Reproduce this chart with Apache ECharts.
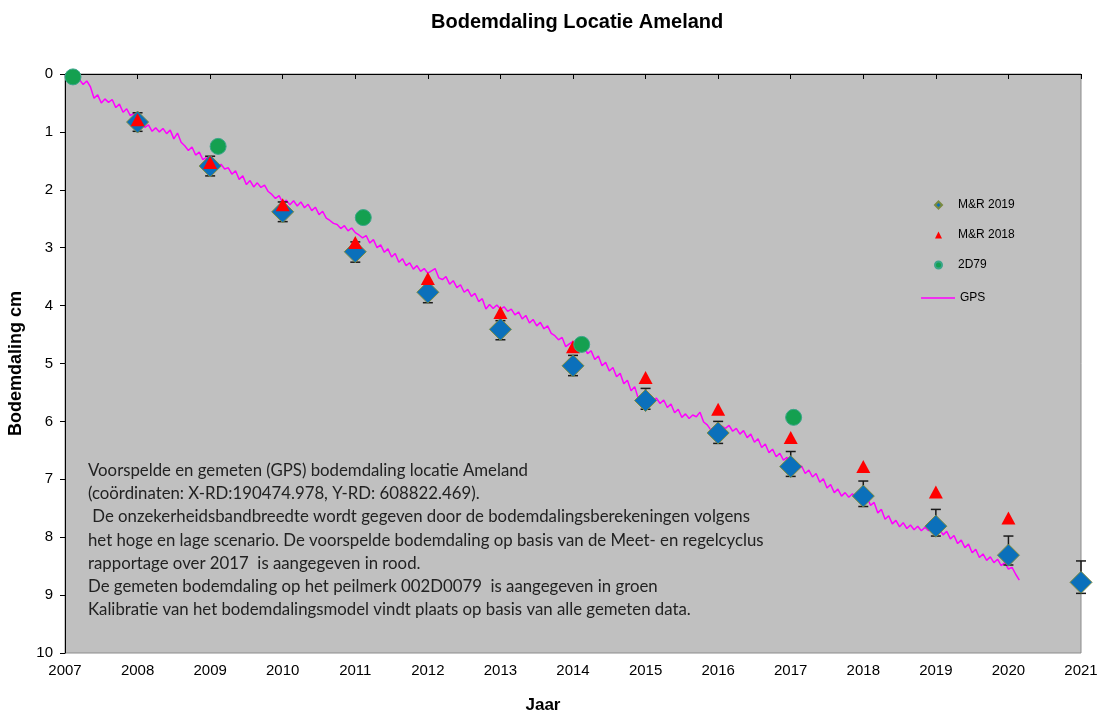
<!DOCTYPE html>
<html>
<head>
<meta charset="utf-8">
<title>Bodemdaling Locatie Ameland</title>
<script src="https://cdn.jsdelivr.net/npm/echarts@6/dist/echarts.min.js"></script>
<style>
  html, body { margin: 0; padding: 0; background: #ffffff; }
  #chart { width: 1099px; height: 715px; }
</style>
</head>
<body>
<div id="chart"></div>
<script>
// Predicted subsidence, M&R 2019 (cm) with uncertainty band (high / low scenario)
const mr2019Years = [2008, 2009, 2010, 2011, 2012, 2013, 2014, 2015, 2016, 2017, 2018, 2019, 2020, 2021];
const mr2019Values = [0.83, 1.59, 2.38, 3.07, 3.77, 4.41, 5.04, 5.64, 6.20, 6.78, 7.29, 7.81, 8.31, 8.78];
const mr2019Upper = [0.67, 1.42, 2.21, 2.90, 3.60, 4.26, 4.86, 5.43, 6.00, 6.52, 7.03, 7.52, 7.98, 8.41];
const mr2019Lower = [0.99, 1.76, 2.55, 3.25, 3.95, 4.59, 5.21, 5.79, 6.38, 6.95, 7.47, 7.98, 8.48, 8.97];

// Predicted subsidence, M&R 2018 (cm)
const mr2018Years = [2008, 2009, 2010, 2011, 2012, 2013, 2014, 2015, 2016, 2017, 2018, 2019, 2020];
const mr2018Values = [0.79, 1.53, 2.26, 2.91, 3.53, 4.12, 4.71, 5.24, 5.79, 6.28, 6.78, 7.22, 7.67];

// Levelling of benchmark 002D0079 (cm)
const d79Years = [2007.11, 2009.11, 2011.11, 2014.12, 2017.04];
const d79Values = [0.05, 1.25, 2.48, 4.67, 5.93];

// GPS record: [decimal year, subsidence cm]
const gpsReadings = [
  [2007.00,0.02],[2007.05,0.06],[2007.10,0.05],[2007.15,0.14],[2007.20,0.10],[2007.25,0.18],[2007.30,0.12],[2007.35,0.22],
  [2007.40,0.42],[2007.45,0.36],[2007.50,0.50],[2007.55,0.43],[2007.60,0.49],[2007.65,0.44],[2007.70,0.58],[2007.75,0.52],
  [2007.80,0.66],[2007.85,0.60],[2007.90,0.72],[2007.95,0.68],[2008.00,0.80],[2008.05,0.84],[2008.10,0.92],[2008.15,0.88],
  [2008.20,0.99],[2008.25,0.93],[2008.30,1.00],[2008.35,0.94],[2008.40,1.03],[2008.45,0.97],[2008.50,1.12],[2008.55,1.02],
  [2008.60,1.18],[2008.65,1.24],[2008.70,1.32],[2008.75,1.26],[2008.80,1.40],[2008.85,1.35],[2008.90,1.48],[2008.95,1.44],
  [2009.00,1.54],[2009.05,1.51],[2009.10,1.60],[2009.15,1.56],[2009.20,1.64],[2009.25,1.62],[2009.30,1.73],[2009.35,1.67],
  [2009.40,1.82],[2009.45,1.76],[2009.50,1.91],[2009.55,1.84],[2009.60,1.95],[2009.65,1.88],[2009.70,1.96],[2009.75,1.92],
  [2009.80,2.03],[2009.85,2.08],[2009.90,2.15],[2009.95,2.10],[2010.00,2.22],[2010.05,2.18],[2010.10,2.26],[2010.15,2.19],
  [2010.20,2.28],[2010.25,2.21],[2010.30,2.31],[2010.35,2.25],[2010.40,2.36],[2010.45,2.30],[2010.50,2.43],[2010.55,2.37],
  [2010.60,2.49],[2010.65,2.53],[2010.70,2.58],[2010.75,2.60],[2010.80,2.67],[2010.85,2.62],[2010.90,2.71],[2010.95,2.66],
  [2011.00,2.74],[2011.05,2.78],[2011.10,2.83],[2011.15,2.79],[2011.20,2.92],[2011.25,2.86],[2011.30,3.00],[2011.35,2.95],
  [2011.40,3.08],[2011.45,3.02],[2011.50,3.16],[2011.55,3.10],[2011.60,3.25],[2011.65,3.19],[2011.70,3.31],[2011.75,3.26],
  [2011.80,3.37],[2011.85,3.31],[2011.90,3.41],[2011.95,3.36],[2012.00,3.44],[2012.05,3.40],[2012.10,3.36],[2012.15,3.52],
  [2012.20,3.55],[2012.25,3.50],[2012.30,3.63],[2012.35,3.57],[2012.40,3.69],[2012.45,3.64],[2012.50,3.77],[2012.55,3.72],
  [2012.60,3.84],[2012.65,3.79],[2012.70,3.93],[2012.75,3.88],[2012.80,4.06],[2012.85,3.98],[2012.90,4.05],[2012.95,3.99],
  [2013.00,4.06],[2013.05,4.02],[2013.10,4.10],[2013.15,4.06],[2013.20,4.16],[2013.25,4.11],[2013.30,4.23],[2013.35,4.17],
  [2013.40,4.30],[2013.45,4.24],[2013.50,4.35],[2013.55,4.29],[2013.60,4.40],[2013.65,4.35],[2013.70,4.48],[2013.75,4.52],
  [2013.80,4.59],[2013.85,4.55],[2013.90,4.71],[2013.95,4.66],[2014.00,4.62],[2014.05,4.70],[2014.10,4.75],[2014.15,4.70],
  [2014.20,4.83],[2014.25,4.78],[2014.30,4.93],[2014.35,4.87],[2014.40,5.04],[2014.45,4.98],[2014.50,5.13],[2014.55,5.07],
  [2014.60,5.23],[2014.65,5.17],[2014.70,5.35],[2014.75,5.29],[2014.80,5.47],[2014.85,5.40],[2014.90,5.61],[2014.95,5.55],
  [2015.00,5.62],[2015.05,5.57],[2015.10,5.63],[2015.15,5.60],[2015.20,5.69],[2015.25,5.63],[2015.30,5.76],[2015.35,5.70],
  [2015.40,5.85],[2015.45,5.79],[2015.50,5.93],[2015.55,5.87],[2015.60,5.95],[2015.65,5.89],[2015.70,5.92],[2015.75,5.84],
  [2015.80,6.01],[2015.85,6.06],[2015.90,6.15],[2015.95,6.09],[2016.00,6.14],[2016.05,6.08],[2016.10,6.12],[2016.15,6.07],
  [2016.20,6.17],[2016.25,6.12],[2016.30,6.22],[2016.35,6.16],[2016.40,6.28],[2016.45,6.22],[2016.50,6.36],[2016.55,6.30],
  [2016.60,6.45],[2016.65,6.39],[2016.70,6.54],[2016.75,6.48],[2016.80,6.61],[2016.85,6.55],[2016.90,6.67],[2016.95,6.62],
  [2017.00,6.75],[2017.05,6.70],[2017.10,6.83],[2017.15,6.77],[2017.20,6.90],[2017.25,6.84],[2017.30,6.96],[2017.35,6.90],
  [2017.40,7.05],[2017.45,6.99],[2017.50,7.15],[2017.55,7.09],[2017.60,7.23],[2017.65,7.17],[2017.70,7.29],[2017.75,7.23],
  [2017.80,7.31],[2017.85,7.25],[2017.90,7.30],[2017.95,7.24],[2018.00,7.34],[2018.05,7.30],[2018.10,7.45],[2018.15,7.40],
  [2018.20,7.58],[2018.25,7.52],[2018.30,7.69],[2018.35,7.63],[2018.40,7.77],[2018.45,7.71],[2018.50,7.82],[2018.55,7.75],
  [2018.60,7.85],[2018.65,7.79],[2018.70,7.87],[2018.75,7.81],[2018.80,7.89],[2018.85,7.83],[2018.90,7.89],[2018.95,7.82],
  [2019.00,7.90],[2019.05,7.86],[2019.10,7.96],[2019.15,7.90],[2019.20,8.03],[2019.25,7.97],[2019.30,8.11],[2019.35,8.05],
  [2019.40,8.18],[2019.45,8.12],[2019.50,8.27],[2019.55,8.21],[2019.60,8.35],[2019.65,8.29],[2019.70,8.40],[2019.75,8.34],
  [2019.80,8.44],[2019.85,8.38],[2019.90,8.49],[2019.95,8.44],[2020.00,8.55],[2020.05,8.52],[2020.10,8.64],[2020.15,8.74]
];

const noteLines = [
  'Voorspelde en gemeten (GPS) bodemdaling locatie Ameland',
  '(coördinaten: X-RD:190474.978, Y-RD: 608822.469).',
  ' De onzekerheidsbandbreedte wordt gegeven door de bodemdalingsberekeningen volgens',
  'het hoge en lage scenario. De voorspelde bodemdaling op basis van de Meet- en regelcyclus',
  'rapportage over 2017  is aangegeven in rood.',
  'De gemeten bodemdaling op het peilmerk 002D0079  is aangegeven in groen',
  'Kalibratie van het bodemdalingsmodel vindt plaats op basis van alle gemeten data.'
];

const chart = echarts.init(document.getElementById('chart'), null, { renderer: 'canvas' });

const zip = (xs, ys) => xs.map((x, i) => [x, ys[i]]);
const errorBars = mr2019Years.map((x, i) => [x, mr2019Upper[i], mr2019Lower[i]]);
const sansBold = { fontFamily: 'Arial, Liberation Sans, sans-serif', fontWeight: 'bold', color: '#000' };

chart.setOption({
  animation: false,
  backgroundColor: '#ffffff',
  title: {
    text: 'Bodemdaling Locatie Ameland',
    left: 426, top: 7,
    textStyle: Object.assign({ fontSize: 20 }, sansBold)
  },
  legend: [
    {
      orient: 'vertical',
      left: 934, top: 199, padding: 0,
      itemWidth: 7, itemHeight: 7, itemGap: 18,
      data: ['M&R 2019', 'M&R 2018', '2D79'],
      textStyle: { fontFamily: 'Arial, Liberation Sans, sans-serif', fontSize: 12, color: '#000', padding: [0, 0, 0, 11] }
    },
    {
      orient: 'vertical',
      left: 921, top: 292, padding: 0,
      itemWidth: 34, itemHeight: 1.5,
      data: [{ name: 'GPS', icon: 'rect' }],
      textStyle: { fontFamily: 'Arial, Liberation Sans, sans-serif', fontSize: 12, color: '#000' }
    }
  ],
  graphic: [
    {
      type: 'rect', left: 911, top: 186, z: -1,
      shape: { width: 119, height: 126 },
      style: { fill: '#ffffff', stroke: '#d0d0d0', lineWidth: 1 }
    },
    {
      type: 'text', left: 88, top: 459, z: 100,
      style: {
        text: noteLines.join('\n'),
        fontFamily: 'Lato, Open Sans, sans-serif', fontSize: 16.8, lineHeight: 23.2, fill: '#222222'
      }
    }
  ],
  grid: {
    left: 65, right: 18, top: 74, bottom: 62,
    outerBoundsMode: 'none', containLabel: false,
    show: true, backgroundColor: '#c0c0c0', borderColor: '#8c8c8c', borderWidth: 1
  },
  xAxis: {
    type: 'value', min: 2007, max: 2021, interval: 1,
    name: 'Jaar', nameLocation: 'middle', nameGap: 44,
    nameTextStyle: Object.assign({ fontSize: 17, padding: [0, 60, 0, 0] }, sansBold),
    axisLine: { lineStyle: { color: '#000', width: 1 } },
    axisTick: { length: 5, lineStyle: { color: '#000' } },
    axisLabel: {
      margin: 10, color: '#000', fontSize: 15,
      fontFamily: 'Arial, Liberation Sans, sans-serif',
      formatter: v => String(v)
    },
    splitLine: { show: false }
  },
  yAxis: {
    type: 'value', inverse: true, min: 0, max: 10, interval: 1,
    name: 'Bodemdaling cm', nameLocation: 'middle', nameGap: 38, nameRotate: 90,
    nameTextStyle: Object.assign({ fontSize: 18 }, sansBold),
    axisLine: { show: true, lineStyle: { color: '#000', width: 1 } },
    axisTick: { show: true, length: 5, lineStyle: { color: '#000' } },
    axisLabel: { margin: 12, color: '#000', fontSize: 15, fontFamily: 'Arial, Liberation Sans, sans-serif' },
    splitLine: { show: false }
  },
  series: [
    {
      name: 'GPS', type: 'line', data: gpsReadings,
      symbol: 'none', showSymbol: false, z: 2,
      lineStyle: { color: '#ff00ff', width: 1.5 },
      itemStyle: { color: '#ff00ff' }
    },
    {
      name: 'band', type: 'custom', data: errorBars, z: 3,
      renderItem: (params, api) => {
        const top = api.coord([api.value(0), api.value(1)]);
        const bot = api.coord([api.value(0), api.value(2)]);
        const hw = 5;
        const st = { stroke: '#1a1a1a', lineWidth: 1.5 };
        return {
          type: 'group',
          children: [
            { type: 'line', shape: { x1: top[0], y1: top[1], x2: bot[0], y2: bot[1] }, style: st },
            { type: 'line', shape: { x1: top[0] - hw, y1: top[1], x2: top[0] + hw, y2: top[1] }, style: st },
            { type: 'line', shape: { x1: bot[0] - hw, y1: bot[1], x2: bot[0] + hw, y2: bot[1] }, style: st }
          ]
        };
      }
    },
    {
      name: 'M&R 2019', type: 'scatter', data: zip(mr2019Years, mr2019Values),
      symbol: 'diamond', symbolSize: 22, z: 4,
      itemStyle: { color: '#0b70bb', borderColor: '#7a8a40', borderWidth: 1, opacity: 1 }
    },
    {
      name: 'M&R 2018', type: 'scatter', data: zip(mr2018Years, mr2018Values),
      symbol: 'triangle', symbolSize: [14, 13], z: 5,
      itemStyle: { color: '#ff0000', opacity: 1 }
    },
    {
      name: '2D79', type: 'scatter', data: zip(d79Years, d79Values),
      symbol: 'circle', symbolSize: 16, z: 6,
      itemStyle: { color: '#14a050', borderColor: '#3aa58a', borderWidth: 1, opacity: 1 }
    }
  ]
});
</script>
</body>
</html>
